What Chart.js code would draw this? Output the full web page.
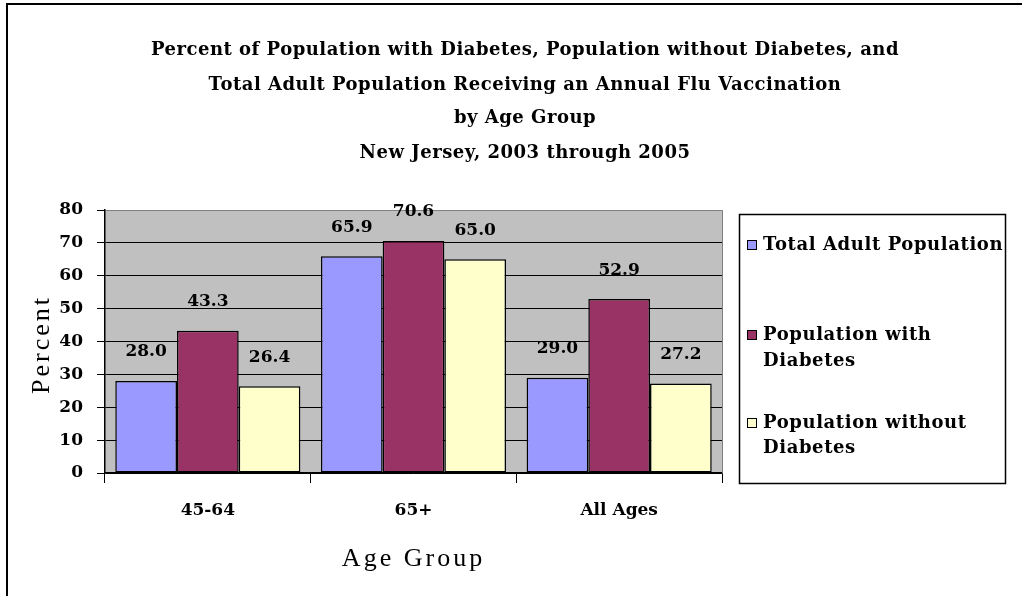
<!DOCTYPE html>
<html><head><meta charset="utf-8">
<script src="https://cdn.jsdelivr.net/npm/chart.js@4"></script>
<style>html,body{margin:0;padding:0;background:#fff;overflow:hidden}#wrap{position:relative;width:1022px;height:596px}</style>
</head><body><div id="wrap"><canvas id="c" width="1022" height="596"></canvas></div>
<script>
// ---- data ----
const categories = ['45-64', '65+', 'All Ages'];
const seriesNames = ['Total Adult Population', 'Population with Diabetes', 'Population without Diabetes'];
const totalAdult = [28.0, 65.9, 29.0];
const withDiabetes = [43.3, 70.6, 52.9];
const withoutDiabetes = [26.4, 65.0, 27.2];
const yTicks = [0, 10, 20, 30, 40, 50, 60, 70, 80];
const titleLines = [
  'Percent of Population with Diabetes, Population without Diabetes, and',
  'Total Adult Population Receiving an Annual Flu Vaccination',
  'by Age Group',
  'New Jersey, 2003 through 2005'
];
const legendLines = [['Total Adult Population'], ['Population with', 'Diabetes'], ['Population without', 'Diabetes']];
const yTitle = 'Percent';
const xTitle = 'Age Group';
const colors = ['#9999FF', '#993366', '#FFFFCC'];

const seriesValues = [totalAdult, withDiabetes, withoutDiabetes];
const BOLD = 'bold 18px "DejaVu Serif"';

const decor = {
  id: 'decor',
  beforeDraw(chart) {
    const ctx = chart.ctx, a = chart.chartArea;
    ctx.save();
    ctx.fillStyle = '#fff';
    ctx.fillRect(0, 0, chart.width, chart.height);
    ctx.fillStyle = '#C0C0C0';
    ctx.fillRect(a.left, a.top, a.right - a.left, a.bottom - a.top);
    // outer frame (top & left)
    ctx.strokeStyle = '#000';
    ctx.lineWidth = 2;
    ctx.beginPath();
    ctx.moveTo(7, 596); ctx.lineTo(7, 4); ctx.lineTo(1022, 4);
    ctx.stroke();
    ctx.restore();
  },
  afterDatasetsDraw(chart) {
    const ctx = chart.ctx;
    ctx.save();
    ctx.font = 'bold 17px "DejaVu Serif"';
    ctx.fillStyle = '#000';
    ctx.textAlign = 'center';
    ctx.textBaseline = 'middle';
    chart.data.datasets.forEach((ds, i) => {
      chart.getDatasetMeta(i).data.forEach((bar, j) => {
        ctx.fillText(ds.data[j].toFixed(1), bar.x, bar.y - 29);
      });
    });
    ctx.restore();
  },
  afterDraw(chart) {
    const ctx = chart.ctx, a = chart.chartArea;
    ctx.save();
    // right border of plot
    ctx.strokeStyle = '#808080';
    ctx.lineWidth = 1;
    ctx.beginPath();
    ctx.moveTo(a.right + 0.5, a.top); ctx.lineTo(a.right + 0.5, a.bottom);
    ctx.stroke();
    // titles
    ctx.fillStyle = '#000';
    ctx.textAlign = 'center';
    ctx.textBaseline = 'middle';
    ctx.font = BOLD;
    ctx.letterSpacing = '0.5px';
    const ty = [50, 85, 118, 153];
    titleLines.forEach((t, i) => ctx.fillText(t, 525, ty[i]));
    // axis titles
    ctx.font = '26px "Liberation Serif"';
    ctx.letterSpacing = '3px';
    ctx.fillText(xTitle, (a.left + a.right) / 2, 559);
    ctx.save();
    ctx.translate(42, (a.top + a.bottom) / 2 + 3);
    ctx.rotate(-Math.PI / 2);
    ctx.fillText(yTitle, 0, 0);
    ctx.restore();
    // legend
    ctx.letterSpacing = '0.6px';
    ctx.strokeStyle = '#000';
    ctx.lineWidth = 1.5;
    ctx.strokeRect(739.5, 214.5, 266, 269);
    ctx.font = BOLD;
    ctx.textAlign = 'left';
    const ly = [[245], [335, 361], [423, 448]];
    legendLines.forEach((lines, i) => {
      ctx.fillStyle = colors[i];
      ctx.fillRect(747, ly[i][0] - 5, 10, 10);
      ctx.lineWidth = 1;
      ctx.strokeRect(747.5, ly[i][0] - 4.5, 9, 9);
      ctx.fillStyle = '#000';
      lines.forEach((l, k) => ctx.fillText(l, 763, ly[i][k]));
    });
    ctx.restore();
  }
};

new Chart(document.getElementById('c'), {
  type: 'bar',
  data: {
    labels: categories,
    datasets: seriesNames.map((n, i) => ({
      label: n,
      data: seriesValues[i],
      backgroundColor: colors[i],
      borderColor: '#000',
      borderWidth: 1.5,
      borderSkipped: false,
      categoryPercentage: 0.9,
      barPercentage: 1.0
    }))
  },
  options: {
    responsive: false,
    devicePixelRatio: 1,
    animation: false,
    layout: { padding: { top: 210, right: 300, left: 0, bottom: 63 } },
    plugins: { legend: { display: false }, title: { display: false }, tooltip: { enabled: false } },
    scales: {
      x: {
        afterFit(s) { s.height = 60; },
        ticks: { font: { family: 'DejaVu Serif', weight: 'bold', size: 17 }, color: '#000', padding: 17 },
        grid: { offset: true, drawOnChartArea: false, color: '#000', tickColor: '#000', tickLength: 10, lineWidth: 1 },
        border: { color: '#000', width: 1.5 }
      },
      y: {
        min: 0, max: 80,
        afterFit(s) { s.width = 105; },
        afterBuildTicks(s) { s.ticks = yTicks.map(v => ({ value: v })); },
        ticks: { font: { family: 'DejaVu Serif', weight: 'bold', size: 17 }, color: '#000', padding: 14 },
        grid: { color: c => (c.tick && c.tick.value === 80) ? '#808080' : '#000', tickColor: '#000', tickLength: 8, lineWidth: 1 },
        border: { color: '#000', width: 1.5 }
      }
    }
  },
  plugins: [decor]
});
</script>
</body></html>
